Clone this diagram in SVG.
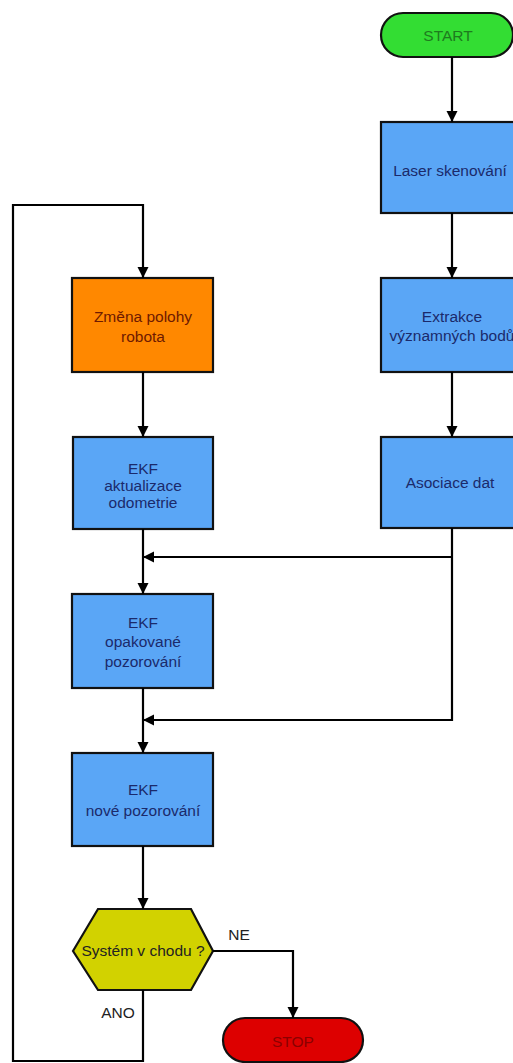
<svg xmlns="http://www.w3.org/2000/svg" width="513" height="1063" viewBox="0 0 513 1063">
<defs>
<marker id="arr" markerUnits="userSpaceOnUse" markerWidth="12" markerHeight="12" viewBox="0 0 12 12" refX="11" refY="6" orient="auto">
<path d="M0,0.5 L11,6 L0,11.5 Z" fill="#000"/>
</marker>
<style>
.box{fill:#5aa6f6;stroke:#111;stroke-width:2.2}
.t{font-family:"Liberation Sans",Arial,sans-serif;font-size:15.5px;text-anchor:middle}
.tb{fill:#1b2a6b}
.c{fill:none;stroke:#000;stroke-width:2.2}
</style>
</defs>
<rect width="513" height="1063" fill="#fff"/>
<g id="start">
<rect x="381" y="13" width="132" height="44" rx="22" fill="#33dd33" stroke="#111" stroke-width="2.2"/>
<text class="t" x="448" y="41" fill="#1e7b1e">START</text>
</g>
<g id="laser">
<rect class="box" x="381" y="122" width="142" height="91"/>
<text class="t tb" x="450" y="176">Laser skenování</text>
</g>
<g id="extrakce">
<rect class="box" x="381" y="278" width="142" height="94"/>
<text class="t tb" x="452" y="322">Extrakce</text>
<text class="t tb" x="452" y="341">významných bodů</text>
</g>
<g id="asociace">
<rect class="box" x="381" y="437" width="142" height="91"/>
<text class="t tb" x="450" y="488">Asociace dat</text>
</g>
<g id="zmena">
<rect x="72" y="278" width="141" height="94" fill="#ff8800" stroke="#111" stroke-width="2.2"/>
<text class="t" x="143" y="322" fill="#6e1a00">Změna polohy</text>
<text class="t" x="143" y="342" fill="#6e1a00">robota</text>
</g>
<g id="ekf-akt">
<rect class="box" x="73" y="437" width="140" height="92"/>
<text class="t tb" x="143" y="474">EKF</text>
<text class="t tb" x="143" y="491">aktualizace</text>
<text class="t tb" x="143" y="508">odometrie</text>
</g>
<g id="ekf-opak">
<rect class="box" x="72" y="594" width="141" height="94"/>
<text class="t tb" x="143" y="628">EKF</text>
<text class="t tb" x="143" y="647">opakované</text>
<text class="t tb" x="143" y="667">pozorování</text>
</g>
<g id="ekf-nove">
<rect class="box" x="72" y="753" width="141" height="93"/>
<text class="t tb" x="143" y="795">EKF</text>
<text class="t tb" x="143" y="816">nové pozorování</text>
</g>
<g id="decision">
<polygon points="73,951 98,909 191,909 213,951 191,990 98,990" fill="#d2d200" stroke="#111" stroke-width="2.2"/>
<text class="t" x="143" y="956" fill="#222">Systém v chodu ?</text>
</g>
<g id="stop">
<rect x="223" y="1018" width="140" height="44" rx="22" fill="#dd0000" stroke="#111" stroke-width="2.2"/>
<text class="t" x="293" y="1047" fill="#8a0000">STOP</text>
</g>
<g id="connectors">
<path class="c" d="M452 57 V122" marker-end="url(#arr)"/>
<path class="c" d="M452 213 V278" marker-end="url(#arr)"/>
<path class="c" d="M452 372 V437" marker-end="url(#arr)"/>
<path class="c" d="M452 528 V720 H143" marker-end="url(#arr)"/>
<path class="c" d="M452 557 H143" marker-end="url(#arr)"/>
<path class="c" d="M143 372 V437" marker-end="url(#arr)"/>
<path class="c" d="M143 529 V594" marker-end="url(#arr)"/>
<path class="c" d="M143 688 V753" marker-end="url(#arr)"/>
<path class="c" d="M143 846 V909" marker-end="url(#arr)"/>
<path class="c" d="M213 951 H293 V1018" marker-end="url(#arr)"/>
<path class="c" d="M143 990 V1061 H13 V205 H143 V278" marker-end="url(#arr)"/>
<text class="t" x="239" y="940" fill="#222">NE</text>
<text class="t" x="118" y="1018" fill="#222">ANO</text>
</g>
</svg>
